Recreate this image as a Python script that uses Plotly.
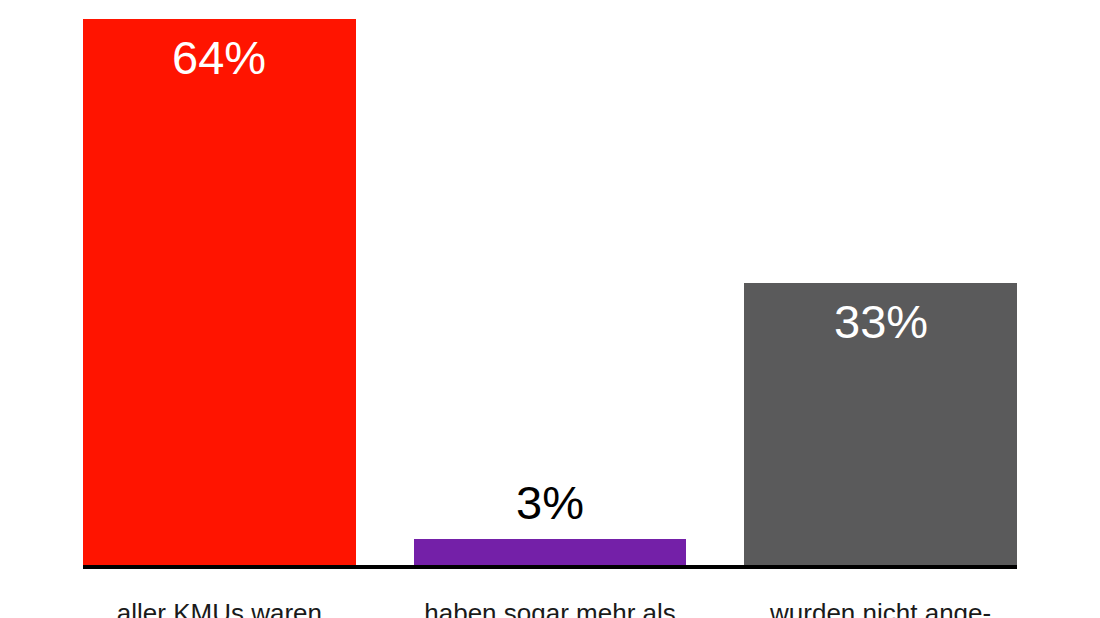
import plotly.graph_objects as go

categories = ["aller KMUs waren", "haben sogar mehr als", "wurden nicht ange-"]
values = [64, 3, 33]
labels = ["64%", "3%", "33%"]
colors = ["#FF1400", "#7420A8", "#5A5A5B"]
label_colors = ["white", "black", "white"]
label_inside = [True, False, True]

x = list(range(len(categories)))
bar_w = 0.825

fig = go.Figure()
fig.add_trace(go.Bar(
    x=x, y=values, width=bar_w,
    marker=dict(color=colors, line=dict(width=0)),
    hoverinfo="skip",
))

for i, (v, t, c, inside) in enumerate(zip(values, labels, label_colors, label_inside)):
    fig.add_annotation(
        x=i, y=v, text=t, showarrow=False,
        xref="x", yref="y",
        yanchor="top" if inside else "bottom",
        yshift=-10 if inside else 8,
        font=dict(family="Liberation Sans, Arial, sans-serif", size=47, color=c),
    )

fig.update_layout(
    width=1100, height=618,
    margin=dict(l=75, r=91, t=11, b=61, autoexpand=False),
    paper_bgcolor="white", plot_bgcolor="white",
    showlegend=False,
    bargap=0,
    xaxis=dict(
        range=[-bar_w / 2, len(categories) - 1 + bar_w / 2],
        tickmode="array", tickvals=x, ticktext=categories,
        showgrid=False, zeroline=False,
        showline=True, linecolor="black", linewidth=4,
        ticks="",
        ticklabelstandoff=22, automargin=False,
        tickfont=dict(family="Liberation Sans, Arial, sans-serif", size=26, color="#1a1a1a"),
        fixedrange=True,
    ),
    yaxis=dict(range=[0, 64], visible=False, fixedrange=True, automargin=False),
)

fig.write_html("out.html")
